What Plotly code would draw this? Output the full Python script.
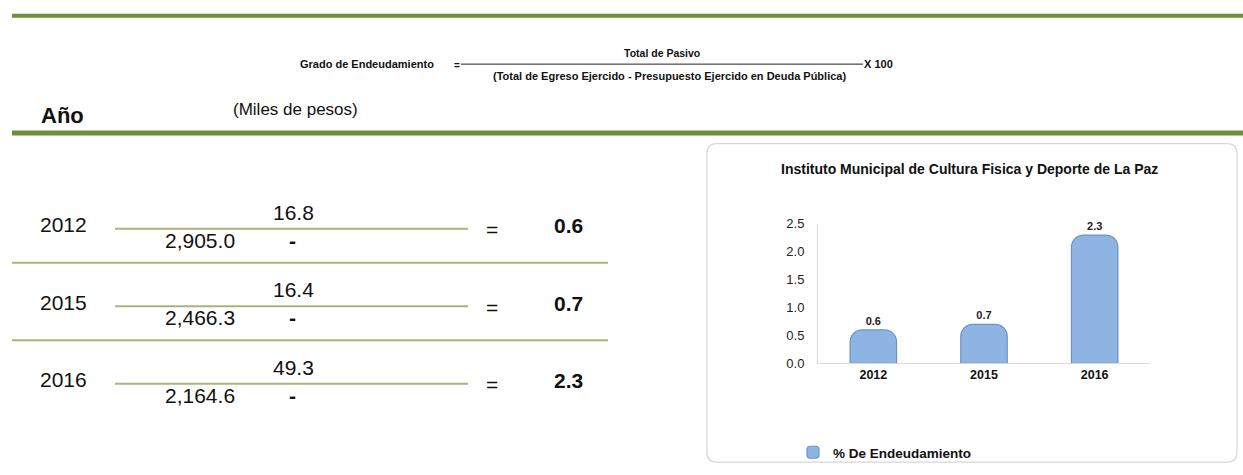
import plotly.graph_objects as go

W, H = 1243, 475

# ---------------- data ----------------
years = ["2012", "2015", "2016"]
total_pasivo = [16.8, 16.4, 49.3]
total_egreso = ["2,905.0", "2,466.3", "2,164.6"]
deuda_publica = ["-", "-", "-"]
endeudamiento = [0.6, 0.7, 2.3]
y_ticks = [0.0, 0.5, 1.0, 1.5, 2.0, 2.5]

chart_title = "Instituto Municipal de Cultura Fisica y Deporte de La Paz"
series_name = "% De Endeudamiento"

GREEN = "#6E8F3A"
LIGHT_GREEN = "#A9B47C"
BAR = "#8DB4E2"
BAR_EDGE = "#6C93C4"
ARIAL = "Liberation Sans, Arial, sans-serif"


def px(x):
    return x / W


def py(y):
    return 1 - y / H


fig = go.Figure()

fig.add_trace(go.Bar(
    x=years, y=endeudamiento, name=series_name,
    marker=dict(color=BAR, line=dict(color=BAR_EDGE, width=1.2)),
    width=0.42,
    text=[f"{v:.1f}" for v in endeudamiento], textposition="outside",
    textfont=dict(family=ARIAL, size=11, color="#222", weight="bold"),
    cliponaxis=False, showlegend=True,
))

shapes = []
annots = []

# horizontal green rules
shapes.append(dict(type="line", xref="paper", yref="paper", x0=px(12), x1=1,
                   y0=py(9), y1=py(9), line=dict(color=GREEN, width=4)))
shapes.append(dict(type="line", xref="paper", yref="paper", x0=px(12), x1=1,
                   y0=py(130), y1=py(130), line=dict(color=GREEN, width=5)))

# formula
annots.append(dict(text="<b>Grado de Endeudamiento</b>", x=px(367), y=py(59),
                   font=dict(family=ARIAL, size=11, color="#111")))
annots.append(dict(text="<b>=</b>", x=px(457), y=py(60),
                   font=dict(family=ARIAL, size=10, color="#111")))
shapes.append(dict(type="line", xref="paper", yref="paper", x0=px(461), x1=px(863),
                   y0=py(59), y1=py(59), line=dict(color="#222", width=1)))
annots.append(dict(text="<b>Total de Pasivo</b>", x=px(662), y=py(47),
                   font=dict(family=ARIAL, size=10.5, color="#111")))
annots.append(dict(text="<b>(Total de Egreso Ejercido - Presupuesto Ejercido en Deuda Pública)</b>",
                   x=px(670), y=py(71), font=dict(family=ARIAL, size=11, color="#111")))
annots.append(dict(text="<b>X 100</b>", x=px(878), y=py(59),
                   font=dict(family=ARIAL, size=11, color="#111")))

annots.append(dict(text="<b>Año</b>", x=px(62), y=py(112),
                   font=dict(family=ARIAL, size=22, color="#111")))
annots.append(dict(text="(Miles de pesos)", x=px(295), y=py(106),
                   font=dict(family=ARIAL, size=17, color="#111")))

# table rows
for i, yr in enumerate(years):
    off = 80 * i
    annots.append(dict(text=yr, x=px(63), y=py(225 + off),
                       font=dict(family=ARIAL, size=21, color="#111")))
    shapes.append(dict(type="line", xref="paper", yref="paper", x0=px(115), x1=px(468),
                       y0=py(229 + off), y1=py(229 + off), line=dict(color=LIGHT_GREEN, width=2)))
    annots.append(dict(text=f"{total_pasivo[i]:.1f}", x=px(293), y=py(212 + off),
                       font=dict(family=ARIAL, size=21, color="#111")))
    annots.append(dict(text=total_egreso[i], x=px(200), y=py(241 + off),
                       font=dict(family=ARIAL, size=21, color="#111")))
    annots.append(dict(text=f"<b>{deuda_publica[i]}</b>", x=px(292), y=py(241 + off),
                       font=dict(family=ARIAL, size=21, color="#111")))
    annots.append(dict(text="=", x=px(492), y=py(230 + off),
                       font=dict(family=ARIAL, size=21, color="#111")))
    annots.append(dict(text=f"<b>{endeudamiento[i]:.1f}</b>", x=px(568), y=py(226 + off),
                       font=dict(family=ARIAL, size=21, color="#111")))
    if i < len(years) - 1:
        shapes.append(dict(type="line", xref="paper", yref="paper", x0=px(12), x1=px(608),
                           y0=py(264 + off), y1=py(264 + off),
                           line=dict(color=LIGHT_GREEN, width=2)))

# chart box with rounded corners
x0, x1, y0, y1, r = px(707), px(1237), py(141), py(470), 10
rx, ry = r / W, r / H
path = (f"M {x0+rx},{y0} L {x1-rx},{y0} Q {x1},{y0} {x1},{y0-ry} "
        f"L {x1},{y1+ry} Q {x1},{y1} {x1-rx},{y1} L {x0+rx},{y1} Q {x0},{y1} {x0},{y1+ry} "
        f"L {x0},{y0-ry} Q {x0},{y0} {x0+rx},{y0} Z")
shapes.append(dict(type="path", xref="paper", yref="paper", path=path,
                   line=dict(color="#D6D6D6", width=1.2), fillcolor="rgba(0,0,0,0)", layer="below"))

annots.append(dict(text=f"<b>{chart_title}</b>", x=px(969), y=py(167),
                   font=dict(family=ARIAL, size=14, color="#111")))

for a in annots:
    a.update(xref="paper", yref="paper", showarrow=False, xanchor="center", yanchor="middle")

fig.update_layout(
    width=W, height=H, autosize=False,
    margin=dict(l=0, r=0, t=0, b=0),
    paper_bgcolor="white", plot_bgcolor="rgba(0,0,0,0)",
    shapes=shapes, annotations=annots,
    xaxis=dict(domain=[px(818), px(1150)], showgrid=False, showline=True,
               linecolor="#D9D9D9", linewidth=1, ticks="",
               tickfont=dict(family=ARIAL, size=12.5, color="#111", weight="bold"),
               fixedrange=True),
    yaxis=dict(domain=[py(368), py(224)], range=[0, 2.5], tickvals=y_ticks,
               tickformat=".1f", showgrid=False, showline=True, linecolor="#D9D9D9",
               linewidth=1, ticks="", zeroline=False, ticklabelstandoff=10,
               tickfont=dict(family=ARIAL, size=13, color="#222"), fixedrange=True),
    legend=dict(orientation="h", x=px(793), y=py(444), xanchor="left", yanchor="top",
                font=dict(family=ARIAL, size=13.5, color="#111", weight="bold"),
                bgcolor="rgba(0,0,0,0)"),
    barcornerradius=12,
)

# remove the page's default body margin so the figure fills the window exactly
fig.write_html("out.html", post_script="document.body.style.margin='0px';",
               config={"displayModeBar": False})
